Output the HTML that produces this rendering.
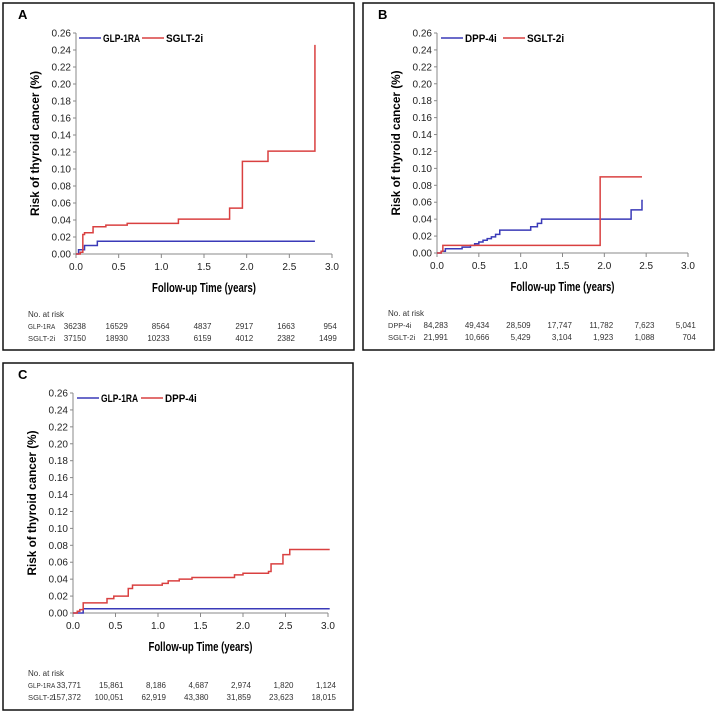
<!DOCTYPE html>
<html><head><meta charset="utf-8"><style>
body{margin:0;background:#fff;width:720px;height:720px;overflow:hidden}
svg{display:block;font-family:"Liberation Sans",sans-serif}
</style></head><body>
<svg id="c" width="720" height="720" viewBox="0 0 720 720"></svg>
<script>
// Panel A data
const aGlpX=[0,0.03,0.1,0.25,2.8];
const aGlpY=[0,0.005,0.01,0.015,0.015];
const aSgltX=[0,0.05,0.08,0.1,0.2,0.35,0.6,1.2,1.8,1.95,2.25,2.8,2.8];
const aSgltY=[0,0.002,0.023,0.025,0.032,0.034,0.036,0.041,0.054,0.109,0.121,0.121,0.246];
const aRisk1=["36238","16529","8564","4837","2917","1663","954"];
const aRisk2=["37150","18930","10233","6159","4012","2382","1499"];
// Panel B data
const bDppX=[0,0.05,0.1,0.3,0.4,0.45,0.5,0.55,0.6,0.65,0.7,0.75,1.12,1.2,1.25,2.32,2.45,2.46];
const bDppY=[0,0.002,0.005,0.007,0.009,0.011,0.013,0.015,0.017,0.019,0.022,0.027,0.031,0.035,0.04,0.051,0.062,0.062];
const bSgltX=[0,0.05,0.07,1.95,2.45];
const bSgltY=[0,0.002,0.009,0.09,0.09];
const bRisk1=["84,283","49,434","28,509","17,747","11,782","7,623","5,041"];
const bRisk2=["21,991","10,666","5,429","3,104","1,923","1,088","704"];
// Panel C data
const cGlpX=[0,0.12,3.02];
const cGlpY=[0,0.005,0.005];
const cDppX=[0,0.05,0.08,0.12,0.4,0.48,0.65,0.7,1.05,1.12,1.25,1.4,1.9,2.0,2.3,2.33,2.47,2.55,3.02];
const cDppY=[0,0.002,0.004,0.012,0.017,0.02,0.029,0.033,0.035,0.038,0.04,0.042,0.045,0.047,0.049,0.058,0.069,0.075,0.075];
const cRisk1=["33,771","15,861","8,186","4,687","2,974","1,820","1,124"];
const cRisk2=["157,372","100,051","62,919","43,380","31,859","23,623","18,015"];
const yTicks=[0,0.02,0.04,0.06,0.08,0.10,0.12,0.14,0.16,0.18,0.20,0.22,0.24,0.26];
const xTicks=[0,0.5,1.0,1.5,2.0,2.5,3.0];

const svg=document.getElementById('c');
const NS='http://www.w3.org/2000/svg';
function mk(tag,attrs,parent,text){const e=document.createElementNS(NS,tag);for(const k in attrs)e.setAttribute(k,attrs[k]);if(text!==undefined)e.textContent=text;parent.appendChild(e);return e;}

function panel(p){
  const g=mk('g',{},svg);
  
  
  const fr=mk('rect',{x:p.box[0],y:p.box[1],width:p.box[2],height:p.box[3],fill:'none',stroke:'#111','stroke-width':1.5},g);
  
  
  const lab=mk('text',{x:p.box[0]+15,y:p.box[1]+16,'font-size':13,'font-weight':'bold'},g,p.id);
  
  
  const sx=v=>p.x0+(p.x3-p.x0)*v/3, sy=v=>p.y0-(p.y0-p.yTop)*v/0.26;
  mk('line',{x1:p.x0,y1:p.y0,x2:p.x0,y2:p.yTop,stroke:'#888'},g);
  mk('line',{x1:p.x0,y1:p.y0,x2:p.x3,y2:p.y0,stroke:'#888'},g);
  yTicks.forEach(t=>{const y=sy(t);mk('line',{x1:p.x0-3,x2:p.x0,y1:y,y2:y,stroke:'#888'},g);
    const tx=mk('text',{x:p.x0-5,y:y+3.5,'font-size':10,'text-anchor':'end',fill:'#222'},g,t.toFixed(2));
    });
  xTicks.forEach(t=>{const x=sx(t);mk('line',{x1:x,x2:x,y1:p.y0,y2:p.y0+4,stroke:'#888'},g);
    const tx=mk('text',{x:x,y:p.y0+16,'font-size':10,'text-anchor':'middle',fill:'#222'},g,t.toFixed(1));
    });
  const yt=mk('text',{transform:`translate(${p.x0-37},${(p.y0+p.yTop)/2}) rotate(-90)`,'font-size':11.5,'font-weight':'bold','text-anchor':'middle',textLength:145,lengthAdjust:'spacingAndGlyphs'},g,'Risk of thyroid cancer (%)');
  
  const xt=mk('text',{x:(p.x0+p.x3)/2,y:p.y0+38,'font-size':12.5,'font-weight':'bold','text-anchor':'middle',textLength:104,lengthAdjust:'spacingAndGlyphs'},g,'Follow-up Time (years)');
  
  p.series.forEach((s,i)=>{
    let d='M'+sx(s.x[0])+','+sy(s.y[0]);
    for(let k=1;k<s.x.length;k++){d+='H'+sx(s.x[k])+'V'+sy(s.y[k]);}
    const path=mk('path',{d:d,fill:'none',stroke:s.c,'stroke-width':1.5},g);
    
    
    const lx=p.leg[i][0],ly=p.yTop+5;
    mk('line',{x1:lx,x2:lx+22,y1:ly,y2:ly,stroke:s.c,'stroke-width':1.5},g);
    const lt=mk('text',{x:lx+24,y:ly+4,'font-size':11,'font-weight':'bold',textLength:s.n.length*5.3,lengthAdjust:'spacingAndGlyphs'},g,s.n);
    
  });
  const rb=p.y0+63;
  const nr=mk('text',{x:p.box[0]+25,y:rb,'font-size':8,fill:'#333'},g,'No. at risk');
  
  [[p.r1n,p.r1],[p.r2n,p.r2]].forEach((row,j)=>{
    const y=rb+12*(j+1);
    mk('text',{x:p.box[0]+25,y:y,'font-size':7,fill:'#333',textLength:row[0].length*3.9,lengthAdjust:'spacingAndGlyphs'},g,row[0]);
    row[1].forEach((v,k)=>{const t=mk('text',{x:p.rx0+p.rdx*k,y:y,'font-size':8,'text-anchor':'end',fill:'#333'},g,v);
      });
  });
}
panel({id:'A',box:[3,3,351,347],x0:76,x3:332,y0:254,yTop:33,leg:[[79],[142]],
  series:[{n:'GLP-1RA',c:'#3a3ab8',x:aGlpX,y:aGlpY},{n:'SGLT-2i',c:'#d94040',x:aSgltX,y:aSgltY}],
  r1n:'GLP-1RA',r1:aRisk1,r2n:'SGLT-2i',r2:aRisk2,rx0:86,rdx:41.8});
panel({id:'B',box:[363,3,351,347],x0:437,x3:688,y0:253,yTop:33,leg:[[441],[503]],
  series:[{n:'DPP-4i',c:'#3a3ab8',x:bDppX,y:bDppY},{n:'SGLT-2i',c:'#d94040',x:bSgltX,y:bSgltY}],
  r1n:'DPP-4i',r1:bRisk1,r2n:'SGLT-2i',r2:bRisk2,rx0:448,rdx:41.3});
panel({id:'C',box:[3,363,350,347],x0:73,x3:328,y0:613,yTop:393,leg:[[77],[141]],
  series:[{n:'GLP-1RA',c:'#3a3ab8',x:cGlpX,y:cGlpY},{n:'DPP-4i',c:'#d94040',x:cDppX,y:cDppY}],
  r1n:'GLP-1RA',r1:cRisk1,r2n:'SGLT-2i',r2:cRisk2,rx0:81,rdx:42.5});
</script>
</body></html>
